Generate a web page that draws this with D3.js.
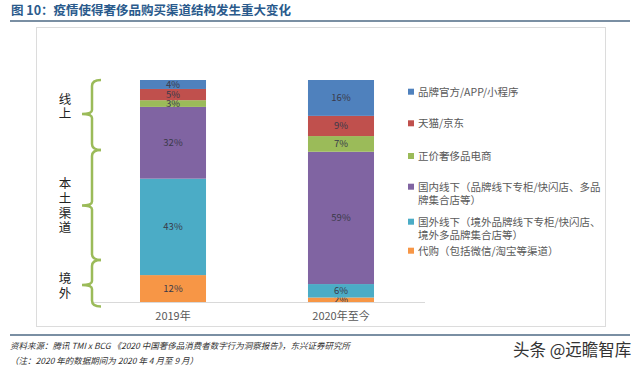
<!DOCTYPE html>
<html><head><meta charset="utf-8">
<script src="https://cdn.jsdelivr.net/npm/d3@7"></script>
<style>body{margin:0;background:#fff}svg{display:block}</style>
</head><body>
<svg id="c" width="640" height="369"></svg>
<script>
const categories = ["2019年", "2020年至今"];
const seriesNames = ["品牌官方/APP/小程序", "天猫/京东", "正价奢侈品电商", "国内线下（品牌线下专柜/快闪店、多品牌集合店等）", "国外线下（境外品牌线下专柜/快闪店、境外多品牌集合店等）", "代购（包括微信/淘宝等渠道）"];
const legendLines = [["品牌官方/APP/小程序"], ["天猫/京东"], ["正价奢侈品电商"], ["国内线下（品牌线下专柜/快闪店、多品", "牌集合店等）"], ["国外线下（境外品牌线下专柜/快闪店、", "境外多品牌集合店等）"], ["代购（包括微信/淘宝等渠道）"]];
const seriesKeys = ["official", "tmall", "ecom", "domestic", "overseas", "daigou"];
const values2019 = [4, 5, 3, 32, 43, 12];
const values2020 = [16, 9, 7, 59, 6, 2];
const colors = ["#4F81BD", "#C0504D", "#9BBB59", "#8064A2", "#4BACC6", "#F79646"];
const groupLabels = [["线", "上"], ["本", "土", "渠", "道"], ["境", "外"]];

const svg = d3.select("#c");
const font = "'Noto Sans CJK SC', 'Noto Sans', sans-serif";

// title
svg.append("text").attr("x", 11).attr("y", 15).attr("font-family", font).attr("font-size", 12.5)
  .attr("font-weight", "bold").attr("fill", "#2A5A8C").text("图 10：疫情使得奢侈品购买渠道结构发生重大变化");
svg.append("line").attr("x1", 10).attr("x2", 630).attr("y1", 21).attr("y2", 21).attr("stroke", "#4E6A84").attr("stroke-width", 1.6);

// frame
svg.append("rect").attr("x", 36.5).attr("y", 27.5).attr("width", 569).attr("height", 299)
  .attr("fill", "none").attr("stroke", "#dcdcdc");

// data table
const rows = categories.map((c, i) => {
  const vals = i === 0 ? values2019 : values2020;
  const o = { cat: c };
  seriesKeys.forEach((k, j) => o[k] = vals[j]);
  return o;
});
// stack from bottom: daigou at bottom, official at top
const stackOrder = seriesKeys.slice().reverse();
const stack = d3.stack().keys(stackOrder).offset(d3.stackOffsetExpand);
const layers = stack(rows);

const x = d3.scaleBand().domain(categories).range([90, 424]).paddingInner(0.607).paddingOuter(0.2976);
const y = d3.scaleLinear().domain([0, 1]).range([302, 80]);

const g = svg.append("g");
layers.forEach(layer => {
  const idx = seriesKeys.indexOf(layer.key);
  g.selectAll(null).data(layer).enter().append("rect")
    .attr("x", d => x(d.data.cat)).attr("width", x.bandwidth())
    .attr("y", d => y(d[1])).attr("height", d => y(d[0]) - y(d[1]))
    .attr("fill", colors[idx]);
  g.selectAll(null).data(layer).enter().append("text")
    .attr("x", d => x(d.data.cat) + x.bandwidth() / 2)
    .attr("y", d => (y(d[0]) + y(d[1])) / 2 + 3.5)
    .attr("text-anchor", "middle").attr("font-family", font).attr("font-size", 9.5)
    .attr("fill", "#3a3a4a").text(d => d.data[layer.key] + "%");
});

// baseline axis
const xAxis = d3.axisBottom(x).tickSize(0).tickPadding(10);
const ax = svg.append("g").attr("transform", "translate(0,302)").call(xAxis);
ax.select(".domain").attr("d", "M93,0.5H425").attr("stroke", "#d9d9d9");
ax.selectAll("text").attr("font-family", font).attr("font-size", 11).attr("fill", "#595959");

// legend
const leg = svg.append("g");
const legY = [91.7, 123.3, 156, 186.7, 221.7, 250.7];
legendLines.forEach((lines, i) => {
  leg.append("rect").attr("x", 408).attr("y", legY[i] - 3).attr("width", 6).attr("height", 6).attr("fill", colors[i]);
  lines.forEach((t, k) => {
    leg.append("text").attr("x", 418).attr("y", legY[i] + 4 + k * 13).attr("font-family", font)
      .attr("font-size", 10.5).attr("fill", "#595959").text(t);
  });
});

// braces
const braces = [[80, 114, 150], [150, 205.5, 260], [260, 285, 306.5]];
const bx = 92, tipX = 82, endX = 101;
braces.forEach(([y0, yt, y1]) => {
  const p = `M${endX},${y0} Q${bx},${y0} ${bx},${y0 + 6} L${bx},${yt - 4} Q${bx},${yt} ${tipX},${yt} Q${bx},${yt} ${bx},${yt + 4} L${bx},${y1 - 6} Q${bx},${y1} ${endX},${y1}`;
  svg.append("path").attr("d", p).attr("fill", "none").attr("stroke", "#9BBB59").attr("stroke-width", 2.5);
});
const groupY = [[99, 113], [183, 198, 213, 227], [278, 293]];
groupLabels.forEach((chars, i) => {
  chars.forEach((ch, k) => {
    svg.append("text").attr("x", 65).attr("y", groupY[i][k] + 4.5).attr("text-anchor", "middle")
      .attr("font-family", font).attr("font-size", 12.5).attr("fill", "#222").text(ch);
  });
});

// footer
svg.append("line").attr("x1", 10).attr("x2", 630).attr("y1", 335).attr("y2", 335).attr("stroke", "#4E6A84").attr("stroke-width", 1.6);
svg.append("text").attr("x", 10).attr("y", 349).attr("font-family", font).attr("font-size", 8.5)
  .attr("font-style", "italic").attr("fill", "#333").text("资料来源：腾讯 TMI x BCG 《2020 中国奢侈品消费者数字行为洞察报告》，东兴证券研究所");
svg.append("text").attr("x", 10).attr("y", 364).attr("font-family", font).attr("font-size", 8.5)
  .attr("font-style", "italic").attr("fill", "#333").text("（注：2020 年的数据期间为 2020 年 4 月至 9 月）");
svg.append("text").attr("x", 513).attr("y", 356).attr("font-family", font).attr("font-size", 16.5)
  .attr("fill", "#333").text("头条 @远瞻智库");
</script>
</body></html>
